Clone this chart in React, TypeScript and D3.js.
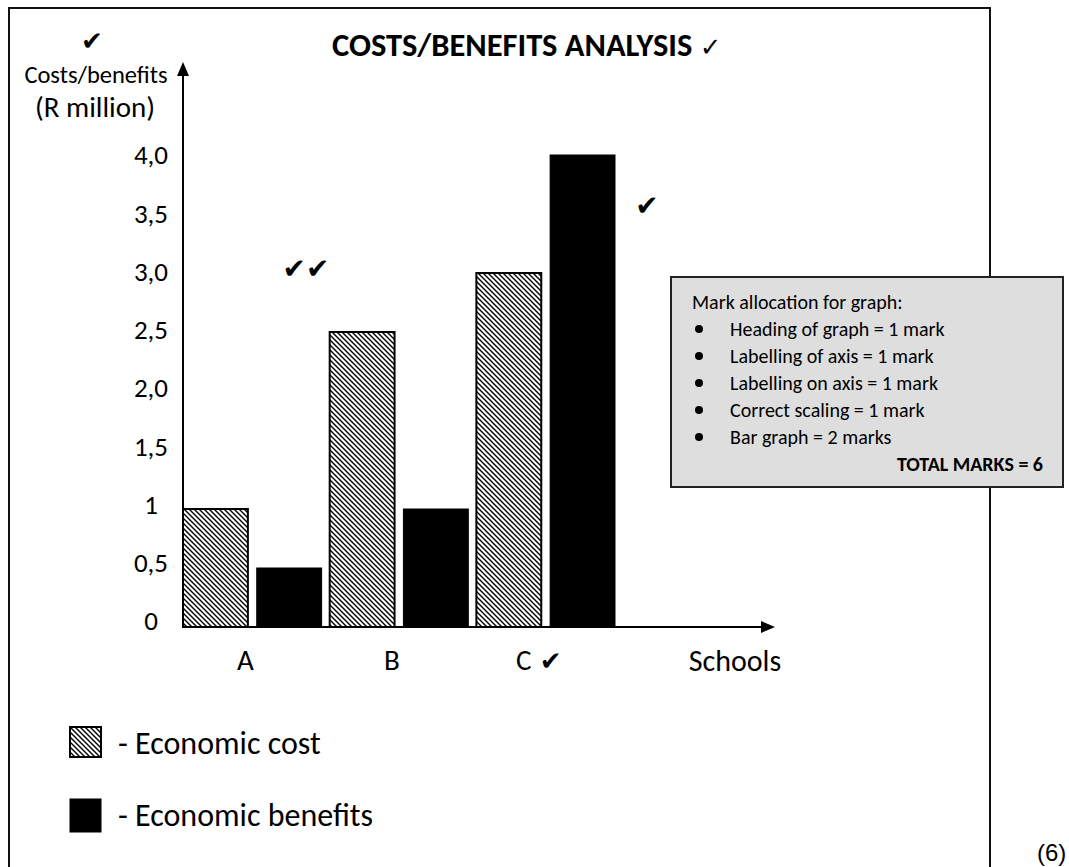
import React from "react";
import * as d3 from "d3";

const schools = ["A", "B", "C"];
const seriesKeys = ["cost", "benefit"];
const seriesNames = ["- Economic cost", "- Economic benefits"];
const economicCost = [1.0, 2.5, 3.0];
const economicBenefits = [0.5, 1.0, 4.0];
const yTicks = [0, 0.5, 1, 1.5, 2, 2.5, 3, 3.5, 4];
const yTickLabels = ["0", "0,5", "1", "1,5", "2,0", "2,5", "3,0", "3,5", "4,0"];
const markLines = [
  "Heading of graph = 1 mark",
  "Labelling of axis = 1 mark",
  "Labelling on axis = 1 mark",
  "Correct scaling = 1 mark",
  "Bar graph = 2 marks",
];

const W = 1069;
const H = 867;
const FONT = "Carlito, Lato, 'Open Sans', sans-serif";
const CHECK = "'DejaVu Sans', sans-serif";

export default function App() {
  const x0 = d3.scaleBand().domain(schools).range([183, 615]).paddingInner(0.055).paddingOuter(0);
  const x1 = d3.scaleBand().domain(seriesKeys).range([0, x0.bandwidth()]).paddingInner(0.12);
  const y = d3.scaleLinear().domain([0, 4]).range([627, 155]);
  const yLabel = d3.scaleLinear().domain([0, 4]).range([621, 155]);

  const bars = schools.flatMap((s, i) => [
    { school: s, key: "cost", value: economicCost[i] },
    { school: s, key: "benefit", value: economicBenefits[i] },
  ]);

  const axisX = x0.range()[0];
  const axisY = y(0);

  return (
    <svg width={W} height={H} style={{ display: "block", position: "absolute", left: 0, top: 0, background: "#fff" }}>
      <defs>
        <pattern id="hatch" patternUnits="userSpaceOnUse" width="5" height="5">
          <rect width="5" height="5" fill="#fff" />
          <path d="M-1,-1 L6,6 M-1,4 L1,6 M4,-1 L6,1" stroke="#000" strokeWidth="1.4" />
        </pattern>
      </defs>

      {/* outer frame */}
      <path d={`M9,${H} L9,8 L990,8 L990,${H}`} fill="none" stroke="#111" strokeWidth={2} />

      {/* title */}
      <text x={92} y={50} fontFamily={CHECK} fontSize={26} textAnchor="middle">✔</text>
      <text x={332} y={56} fontFamily={FONT} fontWeight="bold" fontSize={32.5} fill="#000">
        COSTS/BENEFITS ANALYSIS <tspan fontFamily={CHECK} fontWeight="normal" fontSize={26}>✓</tspan>
      </text>

      {/* y axis title */}
      <text x={96} y={83} fontFamily={FONT} fontSize={24.5} textAnchor="middle">Costs/benefits</text>
      <text x={95} y={117} fontFamily={FONT} fontSize={29} textAnchor="middle">(R million)</text>

      {/* bars */}
      {bars.map((b) => (
        <rect
          key={b.school + b.key}
          x={(x0(b.school) as number) + (x1(b.key) as number)}
          y={y(b.value)}
          width={x1.bandwidth()}
          height={axisY - y(b.value)}
          fill={b.key === "cost" ? "url(#hatch)" : "#000"}
          stroke="#000"
          strokeWidth={b.key === "cost" ? 2 : 1}
        />
      ))}

      {/* axes */}
      <line x1={axisX} y1={axisY} x2={axisX} y2={70} stroke="#000" strokeWidth={2} />
      <path d={`M${axisX - 6},${76} L${axisX},${62} L${axisX + 6},${76} Z`} fill="#000" />
      <line x1={axisX} y1={axisY} x2={765} y2={axisY} stroke="#000" strokeWidth={2} />
      <path d={`M${761},${axisY - 6} L${775},${axisY} L${761},${axisY + 6} Z`} fill="#000" />

      {/* y tick labels */}
      {yTicks.map((t, i) => (
        <text key={t} x={151} y={yLabel(t)} dy="0.35em" fontFamily={FONT} fontSize={27} textAnchor="middle">
          {yTickLabels[i]}
        </text>
      ))}

      {/* x labels */}
      {schools.map((s) => (
        <text key={s} x={(x0(s) as number) + x0.bandwidth() / 2 - 7} y={660} dy="0.35em" fontFamily={FONT} fontSize={29} textAnchor="middle">
          {s}
          {s === "C" ? <tspan fontFamily={CHECK} fontSize={26}> ✔</tspan> : null}
        </text>
      ))}
      <text x={735} y={660} dy="0.35em" fontFamily={FONT} fontSize={30} textAnchor="middle">Schools</text>

      {/* annotation checks */}
      <text x={306} y={278} fontFamily={CHECK} fontSize={28} textAnchor="middle">✔✔</text>
      <text x={647} y={215} fontFamily={CHECK} fontSize={28} textAnchor="middle">✔</text>

      {/* legend */}
      {seriesKeys.map((k, i) => (
        <g key={k} transform={`translate(70, ${727 + i * 72})`}>
          <rect width={31} height={i === 0 ? 30 : 33} fill={k === "cost" ? "url(#hatch)" : "#000"} stroke="#000" strokeWidth={k === "cost" ? 2 : 1} />
          <text x={48} y={16} dy="0.35em" fontFamily={FONT} fontSize={32}>{seriesNames[i]}</text>
        </g>
      ))}

      {/* mark allocation box */}
      <rect x={671} y={277} width={392} height={210} fill="#dedede" stroke="#222" strokeWidth={2} />
      <text x={692} y={309} fontFamily={FONT} fontSize={20}>Mark allocation for graph:</text>
      {markLines.map((m, i) => (
        <g key={m}>
          <circle cx={699} cy={329 + i * 27} r={4} fill="#000" />
          <text x={730} y={336 + i * 27} fontFamily={FONT} fontSize={20}>{m}</text>
        </g>
      ))}
      <text x={1043} y={471} fontFamily={FONT} fontSize={20} fontWeight="bold" textAnchor="end">TOTAL MARKS = 6</text>

      <text x={1037} y={861} fontFamily="'Liberation Sans', Arial, sans-serif" fontSize={24}>(6)</text>
    </svg>
  );
}
